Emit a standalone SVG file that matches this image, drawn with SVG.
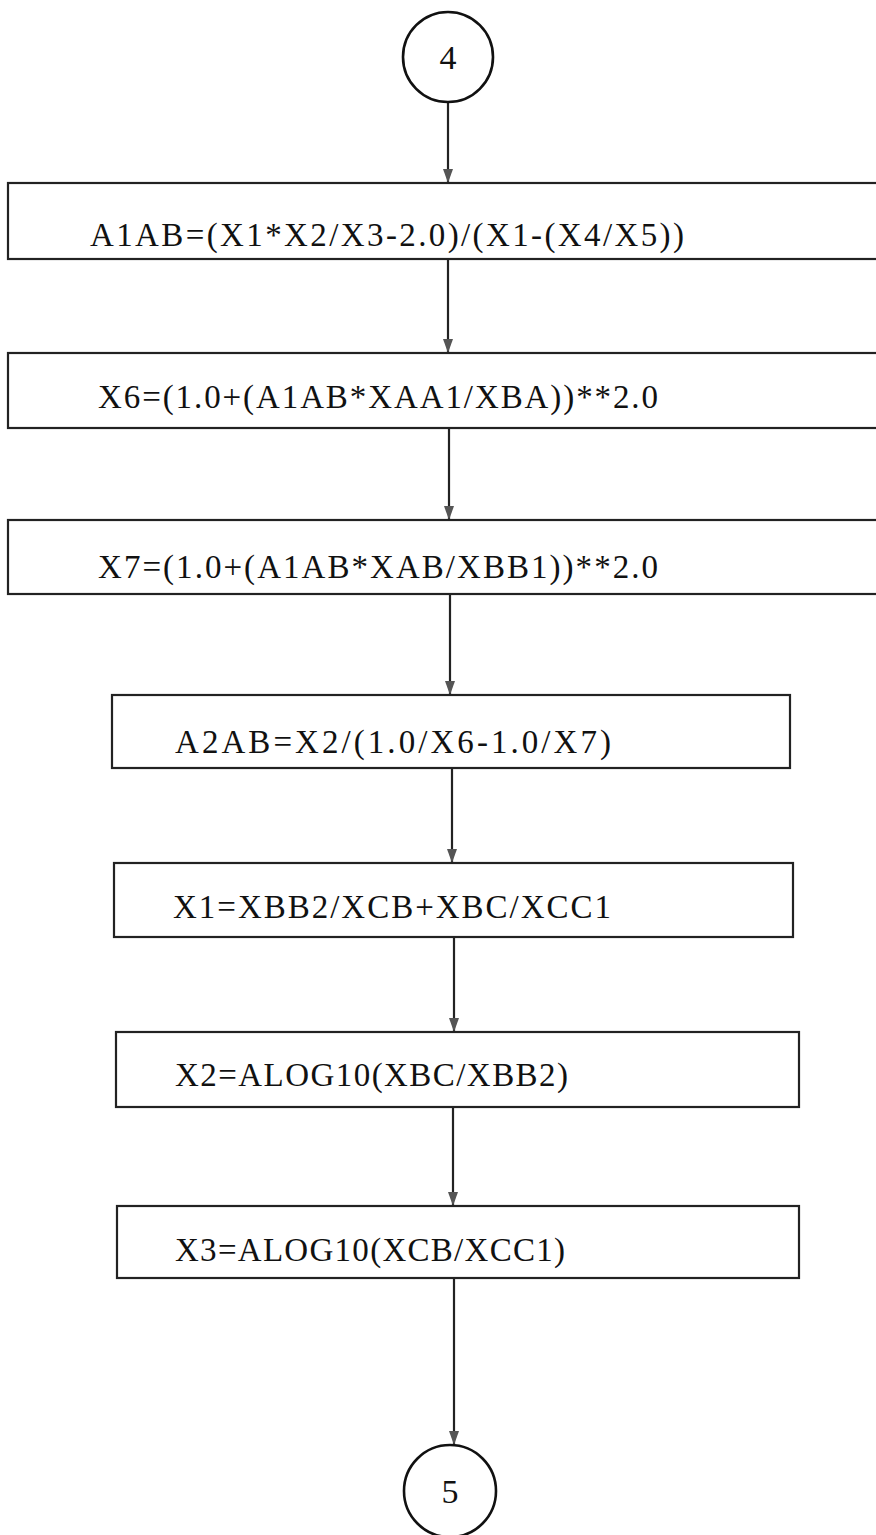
<svg xmlns="http://www.w3.org/2000/svg" width="876" height="1535" viewBox="0 0 876 1535">
<style>
.bx{fill:none;stroke:#222;stroke-width:2.2}
.cr{fill:none;stroke:#111;stroke-width:2.6}
.ln{fill:none;stroke:#222;stroke-width:2.2}
.t{font-family:"Liberation Serif","Times New Roman",serif;font-size:33px;fill:#111}
.n{font-family:"Liberation Serif","Times New Roman",serif;font-size:34px;fill:#111;text-anchor:middle}
</style>
<defs>
<marker id="ah" viewBox="0 0 14 10" refX="14" refY="5" markerWidth="14" markerHeight="10" markerUnits="userSpaceOnUse" orient="auto">
<path d="M0,0 L14,5 L0,10 Z" fill="#555"/>
</marker>
</defs>
<rect width="876" height="1535" fill="#fff"/>
<g id="connectors">
<line class="ln" x1="448" y1="103" x2="448" y2="183" marker-end="url(#ah)"/>
<line class="ln" x1="448" y1="259" x2="448" y2="353" marker-end="url(#ah)"/>
<line class="ln" x1="449" y1="428" x2="449" y2="520" marker-end="url(#ah)"/>
<line class="ln" x1="450" y1="594" x2="450" y2="695" marker-end="url(#ah)"/>
<line class="ln" x1="452" y1="768" x2="452" y2="863" marker-end="url(#ah)"/>
<line class="ln" x1="454" y1="937" x2="454" y2="1032" marker-end="url(#ah)"/>
<line class="ln" x1="453" y1="1107" x2="453" y2="1206" marker-end="url(#ah)"/>
<line class="ln" x1="454" y1="1278" x2="454" y2="1445" marker-end="url(#ah)"/>
</g>
<g id="c4">
<circle class="cr" cx="448" cy="57" r="45"/>
<text class="n" x="448" y="69">4</text>
</g>
<g id="b1">
<rect class="bx" x="8" y="183" width="880" height="76"/>
<text class="t" x="90" y="246" textLength="594" lengthAdjust="spacing">A1AB=(X1*X2/X3-2.0)/(X1-(X4/X5))</text>
</g>
<g id="b2">
<rect class="bx" x="8" y="353" width="880" height="75"/>
<text class="t" x="98" y="408" textLength="560" lengthAdjust="spacing">X6=(1.0+(A1AB*XAA1/XBA))**2.0</text>
</g>
<g id="b3">
<rect class="bx" x="8" y="520" width="880" height="74"/>
<text class="t" x="98" y="578" textLength="560" lengthAdjust="spacing">X7=(1.0+(A1AB*XAB/XBB1))**2.0</text>
</g>
<g id="b4">
<rect class="bx" x="112" y="695" width="678" height="73"/>
<text class="t" x="175" y="753" textLength="436" lengthAdjust="spacing">A2AB=X2/(1.0/X6-1.0/X7)</text>
</g>
<g id="b5">
<rect class="bx" x="114" y="863" width="679" height="74"/>
<text class="t" x="173" y="918" textLength="438" lengthAdjust="spacing">X1=XBB2/XCB+XBC/XCC1</text>
</g>
<g id="b6">
<rect class="bx" x="116" y="1032" width="683" height="75"/>
<text class="t" x="175" y="1086" textLength="393" lengthAdjust="spacing">X2=ALOG10(XBC/XBB2)</text>
</g>
<g id="b7">
<rect class="bx" x="117" y="1206" width="682" height="72"/>
<text class="t" x="175" y="1261" textLength="390" lengthAdjust="spacing">X3=ALOG10(XCB/XCC1)</text>
</g>
<g id="c5">
<circle class="cr" cx="450" cy="1491" r="46"/>
<text class="n" x="450" y="1503">5</text>
</g>
</svg>
